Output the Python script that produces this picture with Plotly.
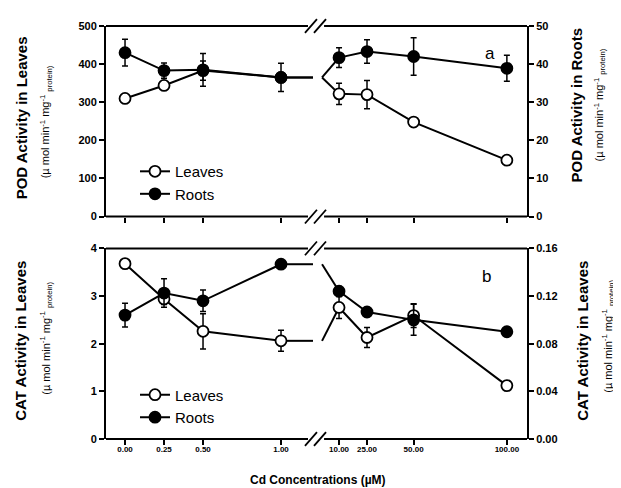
import plotly.graph_objects as go

# ---------------- data ----------------
conc = [0, 0.25, 0.5, 1, 10, 25, 50, 100]
conc_labels = ["0.00", "0.25", "0.50", "1.00", "10.00", "25.00", "50.00", "100.00"]

pod_leaves = [310, 344, 383, 365, 322, 320, 248, 148]
pod_leaves_err = [0, 12, 25, 0, 28, 37, 8, 0]
pod_roots = [43.0, 38.3, 38.5, 36.5, 41.7, 43.3, 42.0, 38.9]
pod_roots_err = [3.5, 2.0, 4.3, 3.7, 2.6, 3.1, 4.9, 3.4]

cat_leaves = [3.68, 2.94, 2.26, 2.06, 2.76, 2.13, 2.59, 1.12]
cat_leaves_err = [0, 0.12, 0.37, 0.22, 0.23, 0.21, 0.25, 0]
cat_roots = [0.104, 0.1225, 0.116, 0.1467, 0.124, 0.1066, 0.100, 0.090]
cat_roots_err = [0.010, 0.012, 0.009, 0, 0.004, 0, 0.013, 0]

pod_left_ticks = [0, 100, 200, 300, 400, 500]
pod_right_ticks = [0, 10, 20, 30, 40, 50]
cat_left_ticks = [0, 1, 2, 3, 4]
cat_right_ticks = [0.00, 0.04, 0.08, 0.12, 0.16]

# ---------------- broken-axis geometry ----------------
LEFT_MAX = 1.0          # last value of left segment
RIGHT_X0 = 10.0
RIGHT_P0 = 1.372
RIGHT_SCALE = 0.011955
X_RANGE = [-0.122, 2.577]
BRIDGE_L, BRIDGE_R = 1.205, 1.263
GAP_L, GAP_R = 1.173, 1.276
SLASH_C = [1.192, 1.250]
SLASH_W = 0.0385
SLASH_H = 0.036


def pos(c):
    return c if c <= LEFT_MAX else RIGHT_P0 + (c - RIGHT_X0) * RIGHT_SCALE


xp = [pos(c) for c in conc]
nl = sum(1 for c in conc if c <= LEFT_MAX)

W, H = 621, 488
ML, MR, MT, MB = 98, 102, 15, 57
PW, PH = W - ML - MR, H - MT - MB


def pxx(px):
    return (px - ML) / PW


def pxy(py):
    return (H - MB - py) / PH


FONT = "Liberation Sans"
BLACK = "#000000"

fig = go.Figure()


def add_series(vals, errs, xa, ya, name, filled, legend, showleg):
    # bridge across the axis break
    fig.add_trace(go.Scatter(
        x=[xp[nl - 1], BRIDGE_L, None, BRIDGE_R, xp[nl]],
        y=[vals[nl - 1], vals[nl - 1], None, vals[nl - 1], vals[nl]],
        mode="lines", line=dict(color=BLACK, width=2),
        xaxis=xa, yaxis=ya, showlegend=False, hoverinfo="skip"))
    xs = xp[:nl] + [None] + xp[nl:]
    ys = vals[:nl] + [None] + vals[nl:]
    es = errs[:nl] + [0] + errs[nl:]
    fig.add_trace(go.Scatter(
        x=xs, y=ys, mode="lines+markers", name=name,
        line=dict(color=BLACK, width=2),
        marker=dict(size=11, symbol="circle",
                    color=BLACK if filled else "white",
                    line=dict(color=BLACK, width=1.8)),
        error_y=dict(type="data", array=es, visible=True,
                     color=BLACK, thickness=1.5, width=3),
        xaxis=xa, yaxis=ya, legend=legend, showlegend=showleg))


add_series(pod_leaves, pod_leaves_err, "x", "y", "Leaves", False, "legend", True)
add_series(pod_roots, pod_roots_err, "x", "y2", "Roots", True, "legend", True)
add_series(cat_leaves, cat_leaves_err, "x2", "y3", "Leaves", False, "legend2", True)
add_series(cat_roots, cat_roots_err, "x2", "y4", "Roots", True, "legend2", True)

tickfont = dict(family=FONT, size=11, color=BLACK, weight="bold")

xcommon = dict(range=X_RANGE, tickvals=xp, ticktext=conc_labels,
               ticks="outside", ticklen=5, tickwidth=1.5, tickcolor=BLACK,
               showline=False, showgrid=False, zeroline=False,
               tickfont=dict(family=FONT, size=8, color=BLACK, weight="bold"))
ycommon = dict(ticks="outside", ticklen=5, tickwidth=1.5, tickcolor=BLACK,
               showline=True, linewidth=2, linecolor=BLACK,
               showgrid=False, zeroline=False, tickfont=tickfont)

TOP_DOM = [pxy(207), 1]
BOT_DOM = [0, pxy(239)]

legfont = dict(family=FONT, size=15, color=BLACK)

fig.update_layout(
    width=W, height=H,
    margin=dict(l=ML, r=MR, t=MT, b=MB),
    paper_bgcolor="white", plot_bgcolor="white",
    font=dict(family=FONT, color=BLACK),
    xaxis=dict(domain=[0, 1], anchor="y", showticklabels=False, **xcommon),
    yaxis=dict(domain=TOP_DOM, anchor="x", range=[0, 500],
               tickvals=pod_left_ticks, **ycommon),
    yaxis2=dict(overlaying="y", side="right", anchor="x", range=[0, 50],
                tickvals=pod_right_ticks, **ycommon),
    xaxis2=dict(domain=[0, 1], anchor="y3", showticklabels=True,
                ticklabelstandoff=-3, **xcommon),
    yaxis3=dict(domain=BOT_DOM, anchor="x2", range=[0, 4],
                tickvals=cat_left_ticks, **ycommon),
    yaxis4=dict(overlaying="y3", side="right", anchor="x2", range=[0, 0.16],
                tickvals=cat_right_ticks, tickformat=".2f", **ycommon),
    legend=dict(x=pxx(127), y=pxy(145), xanchor="left", yanchor="top",
                bgcolor="rgba(0,0,0,0)", font=legfont,
                tracegroupgap=0, itemwidth=30),
    legend2=dict(x=pxx(127), y=pxy(370), xanchor="left", yanchor="top",
                 bgcolor="rgba(0,0,0,0)", font=legfont,
                 tracegroupgap=0, itemwidth=30),
)

# frame lines with break
shapes = []
for xa, ya in (("x", "y"), ("x2", "y3")):
    for yv in (0, 1):
        for x0, x1 in ((X_RANGE[0], GAP_L), (GAP_R, X_RANGE[1])):
            shapes.append(dict(type="line", xref=xa, yref=ya + " domain",
                               x0=x0, x1=x1, y0=yv, y1=yv,
                               line=dict(color=BLACK, width=2)))
        for c in SLASH_C:
            shapes.append(dict(type="line", xref=xa, yref=ya + " domain",
                               x0=c - SLASH_W, x1=c + SLASH_W,
                               y0=yv - SLASH_H, y1=yv + SLASH_H,
                               line=dict(color=BLACK, width=1.8)))
fig.update_layout(shapes=shapes)

sub = "(µ mol min<sup>-1</sup> mg<sup>-1</sup> <sub>protein)</sub>"
ann = []


def vtitle(px, py, text, size):
    ann.append(dict(x=pxx(px), y=pxy(py), xref="paper", yref="paper",
                    text=text, textangle=-90, showarrow=False,
                    xanchor="center", yanchor="middle",
                    font=dict(family=FONT, size=size, color=BLACK)))


vtitle(13, 108, "<b>POD Activity in Leaves</b>", 15)
vtitle(38, 112, sub, 11)
vtitle(568, 95, "<b>POD Activity in Roots</b>", 15)
vtitle(592, 95, sub, 11)
vtitle(13, 332, "<b>CAT Activity in Leaves</b>", 15)
vtitle(38, 330, sub, 11)
vtitle(575, 332, "<b>CAT Activity in Leaves</b>", 15)
vtitle(600, 328, sub, 11)

ann.append(dict(x=pxx(310), y=pxy(472), xref="paper", yref="paper",
                text="<b>Cd Concentrations (µM)</b>", showarrow=False,
                xanchor="center", yanchor="middle",
                font=dict(family=FONT, size=12, color=BLACK)))
ann.append(dict(x=pxx(482), y=pxy(43), xref="paper", yref="paper", text="a",
                showarrow=False, xanchor="center", yanchor="middle",
                font=dict(family=FONT, size=17, color=BLACK)))
ann.append(dict(x=pxx(478), y=pxy(267), xref="paper", yref="paper", text="b",
                showarrow=False, xanchor="center", yanchor="middle",
                font=dict(family=FONT, size=17, color=BLACK)))
fig.update_layout(annotations=ann)

fig.write_html("out.html")
